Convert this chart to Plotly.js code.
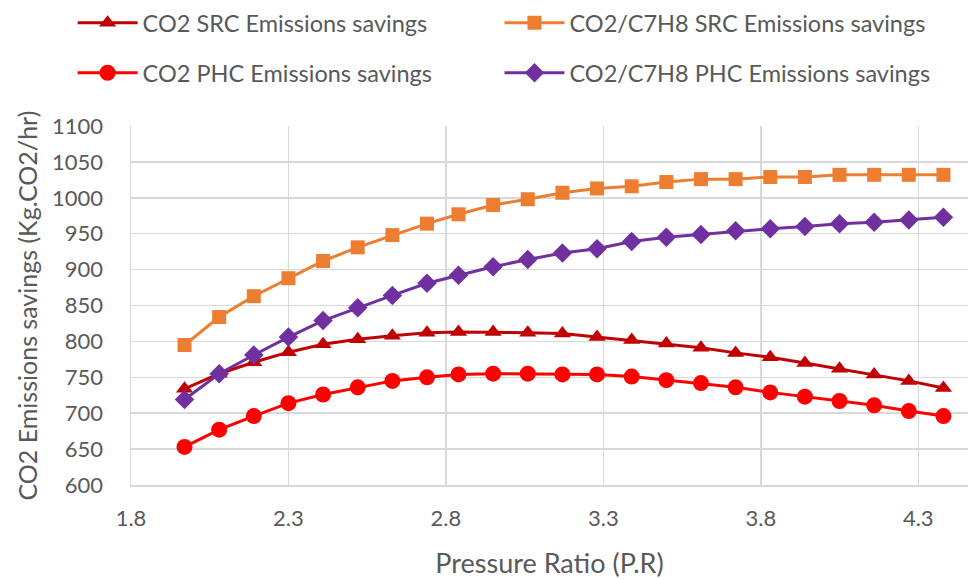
<!DOCTYPE html>
<html>
<head>
<meta charset="utf-8">
<script src="https://cdn.plot.ly/plotly-3.0.1.min.js"></script>
<style>html,body{margin:0;padding:0;background:#fff;}#chart{width:968px;height:579px;}</style>
</head>
<body>
<div id="chart"></div>
<script>
var pressureRatio = [1.97, 2.08, 2.19, 2.30, 2.41, 2.52, 2.63, 2.74, 2.84, 2.95, 3.06, 3.17, 3.28, 3.39, 3.50, 3.61, 3.72, 3.83, 3.94, 4.05, 4.16, 4.27, 4.38];
var co2SRC = [734, 755, 771, 785, 796, 803, 808, 812, 813, 813, 812, 811, 806, 802, 797, 791, 784, 778, 770, 762, 754, 745, 735];
var co2PHC = [653, 677, 696, 714, 726, 736, 745, 750, 754, 755, 755, 754, 754, 751, 746, 742, 736, 729, 723, 717, 711, 703, 696];
var mixSRC = [795, 834, 863, 888, 912, 931, 948, 964, 977, 990, 998, 1007, 1013, 1016, 1022, 1026, 1026, 1029, 1029, 1032, 1032, 1032, 1032];
var mixPHC = [719, 755, 781, 806, 829, 847, 864, 881, 892, 904, 914, 923, 929, 939, 945, 949, 954, 957, 960, 964, 966, 969, 973];
var seriesNames = ["CO2 SRC Emissions savings", "CO2/C7H8 SRC Emissions savings", "CO2 PHC Emissions savings", "CO2/C7H8 PHC Emissions savings"];
var xTickVals = [1.8, 2.3, 2.8, 3.3, 3.8, 4.3];
var yTickVals = [600, 650, 700, 750, 800, 850, 900, 950, 1000, 1050, 1100];
var xTitle = "Pressure Ratio (P.R)";
var yTitle = "CO2 Emissions savings (Kg.CO2/hr)";

var FONT = "Lato, 'Open Sans', sans-serif";
var GRAY = "#595959";

function tr(y, name, color, symbol, size, legend) {
  return {
    x: pressureRatio, y: y, name: name, type: "scatter", mode: "lines+markers",
    line: {color: color, width: 3},
    marker: {color: color, symbol: symbol, size: size},
    legend: legend
  };
}

var data = [
  tr(co2SRC, seriesNames[0], "#C00000", "triangle-up", 15, "legend"),
  tr(mixSRC, seriesNames[1], "#ED7D31", "square", 14, "legend2"),
  tr(co2PHC, seriesNames[2], "#FF0000", "circle", 16, "legend3"),
  tr(mixPHC, seriesNames[3], "#7030A0", "diamond", 15, "legend4")
];

function leg(x, yPx) {
  return {
    orientation: "v", xref: "container", yref: "container",
    xanchor: "left", yanchor: "middle", x: x, y: 1 - yPx / 579,
    font: {family: FONT, size: 23.5, color: GRAY},
    itemwidth: 60, bgcolor: "rgba(0,0,0,0)"
  };
}

var layout = {
  width: 968, height: 579,
  paper_bgcolor: "#fff", plot_bgcolor: "#fff",
  margin: {l: 131, r: 0, t: 126, b: 94, autoexpand: false},
  font: {family: FONT, size: 22, color: GRAY},
  showlegend: true,
  legend: leg(0.075, 23),
  legend2: leg(0.516, 23),
  legend3: leg(0.075, 73),
  legend4: leg(0.516, 73),
  xaxis: {
    range: [1.8, 4.458], tickvals: xTickVals, ticktext: xTickVals.map(function(v){return v.toFixed(1);}),
    showgrid: true, gridcolor: "#d9d9d9", gridwidth: 1.5,
    showline: true, linecolor: "#d9d9d9", linewidth: 1.5, zeroline: false,
    ticks: "", ticklabelstandoff: 13,
    tickfont: {family: FONT, size: 22, color: GRAY},
    automargin: false,
    title: {text: xTitle, font: {family: FONT, size: 27, color: GRAY}}
  },
  yaxis: {
    range: [600, 1100], tickvals: yTickVals,
    showgrid: true, gridcolor: "#d9d9d9", gridwidth: 1.5,
    showline: true, linecolor: "#d9d9d9", linewidth: 1.5, zeroline: false,
    ticks: "", ticklabelstandoff: 22,
    tickfont: {family: FONT, size: 22, color: GRAY},
    automargin: false
  },
  annotations: [{
    text: yTitle, textangle: -90, showarrow: false,
    xref: "paper", yref: "paper", x: -0.1254, y: 0.5,
    xanchor: "center", yanchor: "middle",
    font: {family: FONT, size: 25, color: GRAY}
  }]
};

Plotly.newPlot("chart", data, layout, {displayModeBar: false, staticPlot: true});
</script>
</body>
</html>
